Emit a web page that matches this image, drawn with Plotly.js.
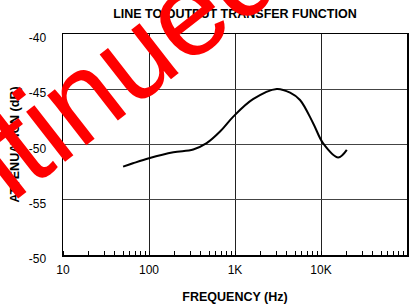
<!DOCTYPE html>
<html>
<head>
<meta charset="utf-8">
<script src="https://cdn.plot.ly/plotly-3.0.1.min.js"></script>
<style>
html,body{margin:0;padding:0;background:#fff;}
#chart{width:414px;height:306px;}
</style>
</head>
<body>
<div id="chart"></div>
<script>
// Data
const freqHz = [50, 65, 100, 192, 327, 468, 670, 955, 1620, 3055, 4370, 5700, 8100, 10600, 15850, 19950];
const attenDb = [-52.0, -51.7, -51.24, -50.7, -50.45, -49.88, -48.83, -47.48, -45.9, -44.97, -45.3, -45.97, -48.07, -49.9, -51.17, -50.49];
const xTickVals = [10, 100, 1000, 10000, 100000];
const xTickText = ["10", "100", "1K", "10K", "100K"];
const yTickVals = [-40, -45, -50, -55, -60];
const yTickText = ["-40", "-45", "-50", "-55", "-50"];

const font = "Liberation Sans, Arial, Helvetica, sans-serif";

const trace = {
  x: freqHz,
  y: attenDb,
  type: "scatter",
  mode: "lines",
  line: {color: "#000", width: 2, shape: "spline", smoothing: 1},
  hoverinfo: "skip"
};

const layout = {
  width: 414,
  height: 306,
  margin: {l: 63, r: 7, t: 34, b: 51},
  paper_bgcolor: "#fff",
  plot_bgcolor: "#fff",
  showlegend: false,
  font: {family: font, color: "#000", size: 12},
  title: {
    text: "<b>LINE TO OUTPUT TRANSFER FUNCTION</b>",
    font: {family: font, size: 12.5, color: "#000"},
    x: 0.5675, xanchor: "center",
    y: 0.955, yanchor: "middle"
  },
  xaxis: {
    type: "log",
    range: [1, 5],
    tickvals: xTickVals,
    ticktext: xTickText,
    ticks: "",
    ticklabelstandoff: 3,
    showgrid: true,
    gridcolor: "#222",
    gridwidth: 1,
    showline: true,
    linecolor: "#000",
    linewidth: 1.5,
    mirror: true,
    zeroline: false,
    tickfont: {family: font, size: 12, color: "#000"},
    minor: {dtick: "D1", ticks: "inside", ticklen: 4, tickcolor: "#000", tickwidth: 1, showgrid: false},
    title: {text: "<b>FREQUENCY (Hz)</b>", font: {family: font, size: 12.5, color: "#000"}, standoff: 16}
  },
  yaxis: {
    range: [-60, -40],
    tickvals: yTickVals,
    ticktext: yTickText,
    ticks: "",
    ticklabelstandoff: 13,
    ticklabelshift: 4,
    showgrid: true,
    gridcolor: "#444",
    gridwidth: 1,
    showline: true,
    linecolor: "#000",
    linewidth: 1.5,
    mirror: true,
    zeroline: false,
    tickfont: {family: font, size: 12, color: "#000"},
    title: {text: "<b>ATTENUATION (dB)</b>", font: {family: font, size: 12.5, color: "#000"}, standoff: 6}
  },
  annotations: [{
    text: "Discontinued",
    xref: "paper", yref: "paper",
    x: -0.208, y: 0.403,
    xanchor: "center", yanchor: "middle",
    textangle: -38,
    showarrow: false,
    font: {family: font, size: 120, color: "#ff0000"}
  }]
};

Plotly.newPlot("chart", [trace], layout, {staticPlot: true, displayModeBar: false});
</script>
</body>
</html>
